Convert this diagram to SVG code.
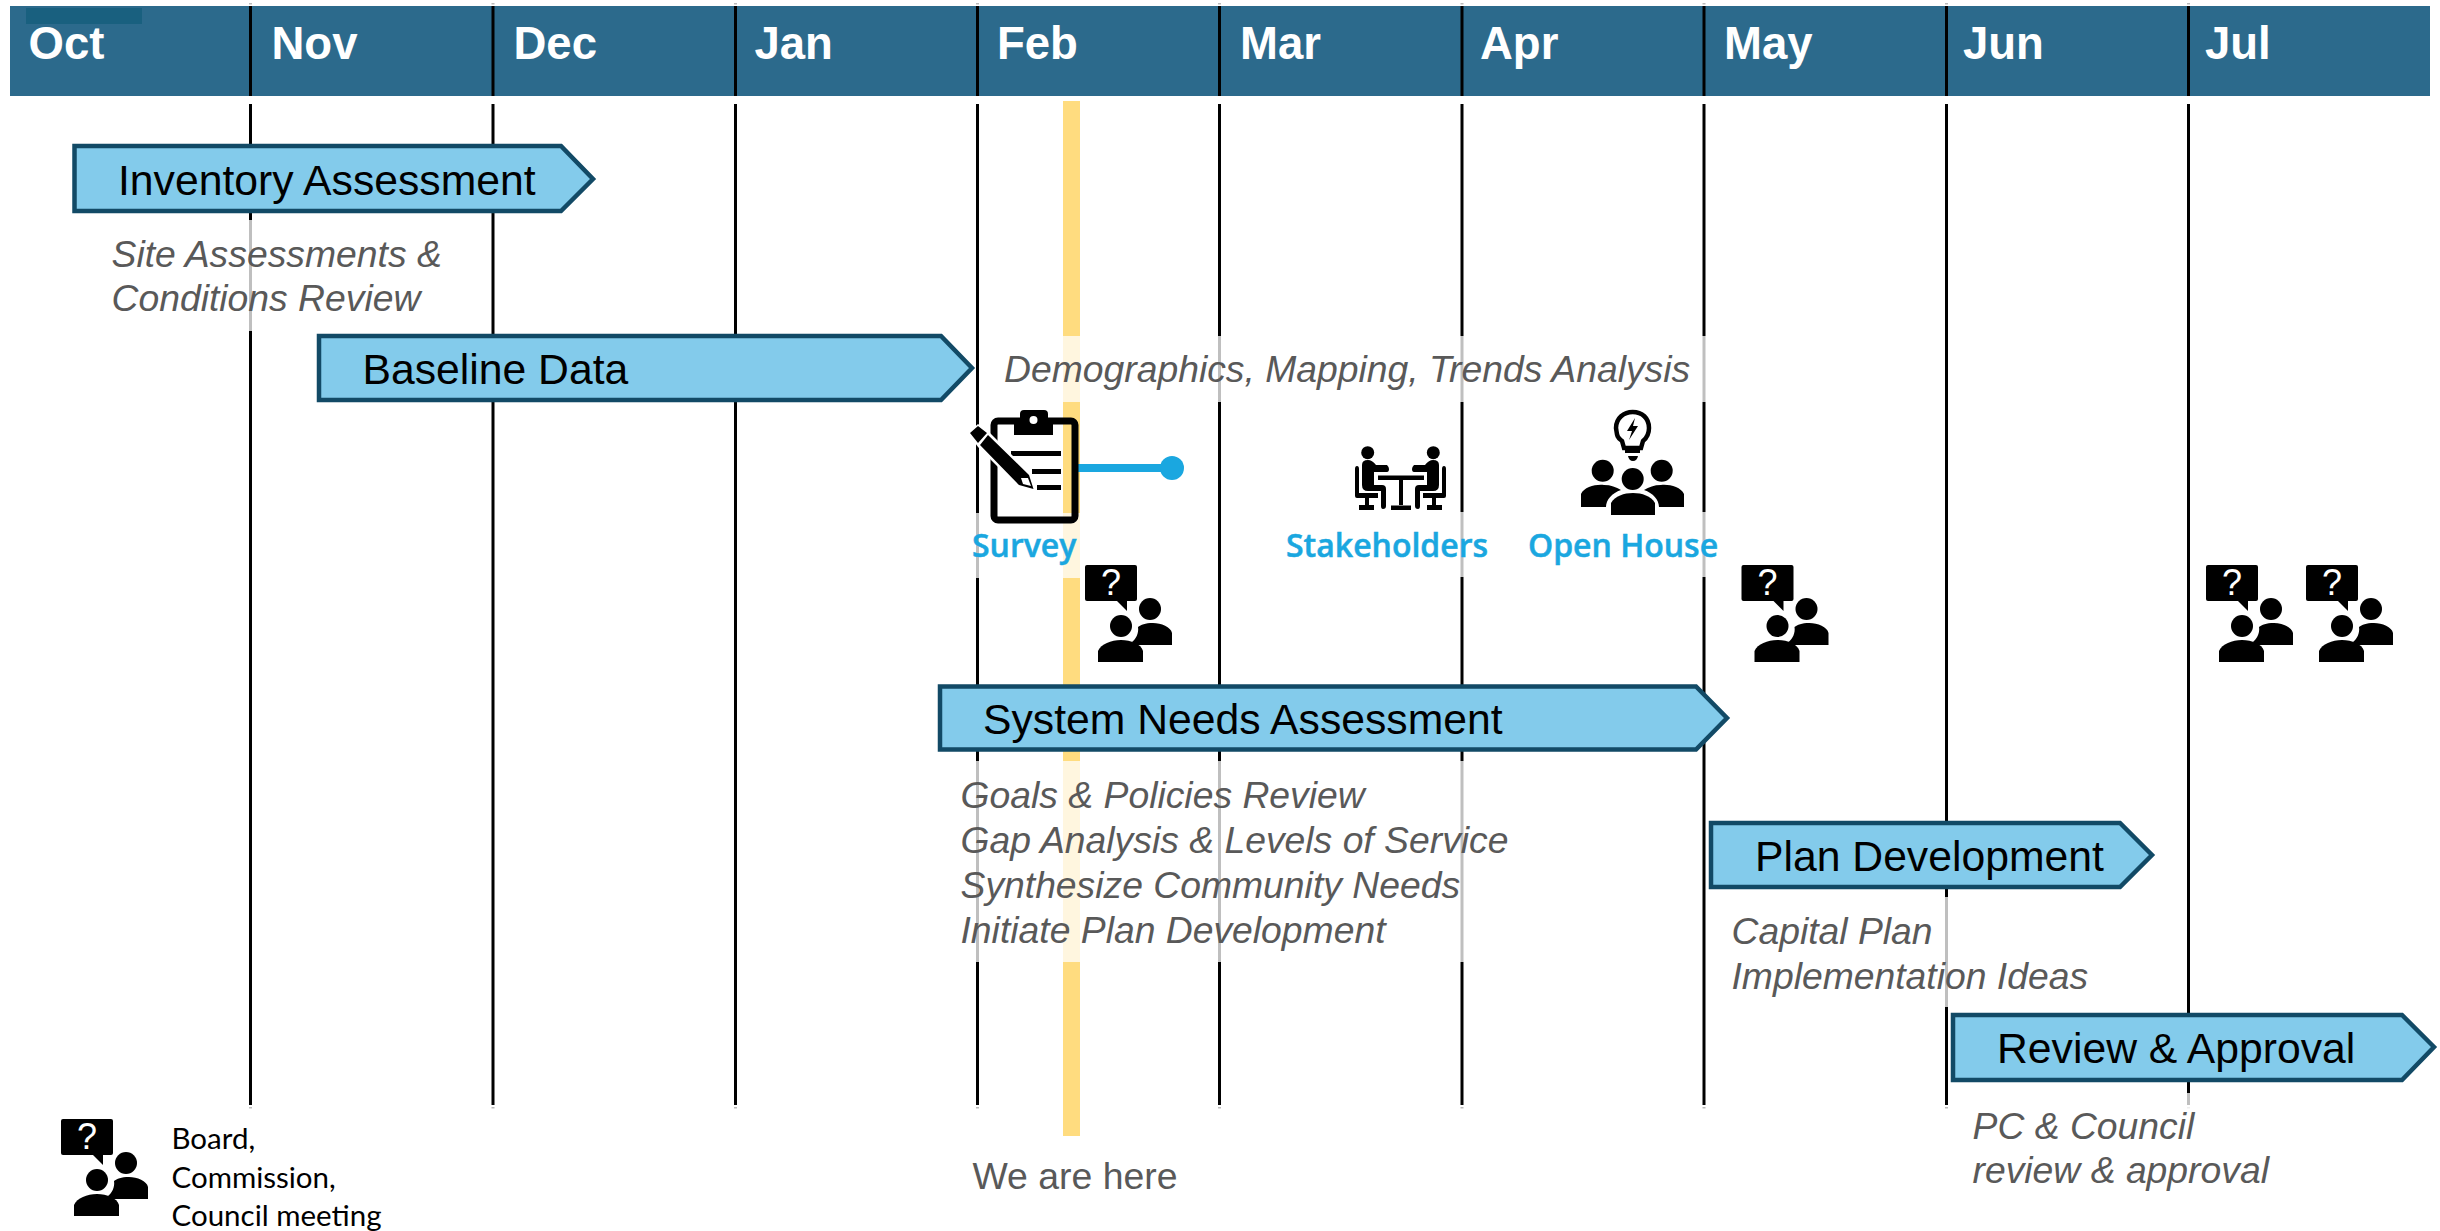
<svg xmlns="http://www.w3.org/2000/svg" width="2440" height="1231" viewBox="0 0 2440 1231">
<style>
text{font-family:"Liberation Sans",Arial,sans-serif}
.grid{stroke:#000;stroke-width:3;fill:none}
.veil{fill:#fff;fill-opacity:.75}
.month{font-weight:700;font-size:45.5px;fill:#fff}
.bar{fill:#83CBEB;stroke:#124A66;stroke-width:4.5}
.barlabel{font-size:42.7px;fill:#000}
.note{font-style:italic;font-size:37.3px;fill:#595959}
.engage{font-family:"Open Sans",sans-serif;font-weight:600;font-size:32px;fill:#1AA7E0;stroke:#1AA7E0;stroke-width:.5}
.legend{font-family:Lato,sans-serif;font-size:29.5px;fill:#000}
.k{fill:#000}
</style>
<defs>
<symbol id="meeting" overflow="visible" viewBox="0 0 90 100" width="90" height="100">
<rect x="0" y="0" width="52" height="36" rx="2" class="k"/>
<path d="M31,35 L42,46 L42,35 Z" class="k"/>
<text x="26" y="30" text-anchor="middle" style="font-family:'Liberation Sans',sans-serif;font-size:36px;font-weight:400;fill:#fff">?</text>
<ellipse cx="65" cy="44" rx="11" ry="11" class="k"/>
<path d="M49,80 L87,80 L87,68 C86,62 76,58 68,58 C60,58 56,60 53,62 C54,68 51,74 47,77 Z" class="k"/>
<circle cx="36" cy="61" r="11" class="k"/>
<path d="M13,97 L58,97 L58,86 C56,79 46,75 36,75 C26,75 16,79 13,86 Z" class="k"/>
</symbol>
</defs>

<g id="header">
<rect x="10" y="6" width="2420" height="90" fill="#2C6A8C"/>
<rect x="26" y="8" width="116" height="16" fill="#19607F"/>
</g>

<g id="grid">
<path class="grid" d="M250.5,6V96M493,6V96M735.5,6V96M977.5,6V96M1219.5,6V96M1462,6V96M1704,6V96M1946.5,6V96M2188.5,6V96"/>
<path class="grid" d="M250.5,104V1105M493,104V1105M735.5,104V1105M977.5,104V1105M1219.5,104V1105M1462,104V1105M1704,104V1105M1946.5,104V1105M2188.5,104V1105"/>
<path d="M250.5,3V4.5M493,3V4.5M735.5,3V4.5M977.5,3V4.5M1219.5,3V4.5M1462,3V4.5M1704,3V4.5M1946.5,3V4.5M2188.5,3V4.5M250.5,1107V1108.5M493,1107V1108.5M735.5,1107V1108.5M977.5,1107V1108.5M1219.5,1107V1108.5M1462,1107V1108.5M1704,1107V1108.5M1946.5,1107V1108.5M2188.5,1107V1108.5" stroke="#bbb" stroke-width="3" fill="none"/>
</g>

<rect id="now-marker" x="1063" y="101" width="17" height="1035" fill="#FFDC7F"/>

<g id="veils">
<rect class="veil" x="105" y="220" width="370" height="111"/>
<rect class="veil" x="985" y="336" width="725" height="66"/>
<rect class="veil" x="965" y="513" width="135" height="65"/>
<rect class="veil" x="1280" y="512" width="440" height="65"/>
<rect class="veil" x="950" y="761" width="570" height="201"/>
<rect class="veil" x="1725" y="897" width="370" height="110"/>
<rect class="veil" x="1965" y="1093" width="330" height="100"/>
</g>

<g id="header-labels">
<text class="month" x="28.5" y="58.5">Oct</text>
<text class="month" x="271.5" y="58.5">Nov</text>
<text class="month" x="513.5" y="58.5">Dec</text>
<text class="month" x="754.5" y="58.5">Jan</text>
<text class="month" x="997" y="58.5">Feb</text>
<text class="month" x="1240" y="58.5">Mar</text>
<text class="month" x="1480" y="58.5">Apr</text>
<text class="month" x="1724" y="58.5">May</text>
<text class="month" x="1963" y="58.5">Jun</text>
<text class="month" x="2205" y="58.5">Jul</text>
</g>

<g id="connectors">
<path d="M1078,468H1172" stroke="#1AA7E0" stroke-width="8" fill="none"/>
<circle cx="1172" cy="468" r="12" fill="#1AA7E0"/>
</g>

<g id="inventory-assessment">
<path class="bar" d="M74.5,146H561L593,179L561,211H74.5Z"/>
<text class="barlabel" x="118" y="195">Inventory Assessment</text>
<text class="note" x="111.5" y="267">Site Assessments &amp;</text>
<text class="note" x="111.5" y="311">Conditions Review</text>
</g>

<g id="baseline-data">
<path class="bar" d="M319,336H941L972,368L941,400H319Z"/>
<text class="barlabel" x="362.5" y="383.5">Baseline Data</text>
<text class="note" x="1004" y="382">Demographics, Mapping, Trends Analysis</text>
</g>

<g id="survey">
<g fill="none" stroke="#000">
<rect x="994" y="421" width="81" height="99" rx="4" stroke-width="7"/>
</g>
<path class="k" d="M1014,418H1020V414Q1020,410 1024,410H1044Q1048,410 1048,414V418H1053V435H1014Z"/>
<circle cx="1033.5" cy="420" r="4" fill="#fff"/>
<path class="k" d="M1011,451H1061V456H1011ZM1032,469H1061V474H1032ZM1037,485H1061V490H1037Z"/>
<path d="M968,433L978,424L990,433L1032,475L1036,493L1018,487L978,447Z" fill="#fff"/>
<path class="k" d="M970,433L978,426L987,433L978,443ZM988,435L1029,475L1033.5,489L1019,485L980,445Z"/>
<path d="M1021,478L1028,478L1031,486L1023,484Z" fill="#fff"/>
<text class="engage" x="972" y="557">Survey</text>
</g>

<g id="stakeholders">
<circle cx="1367.7" cy="452.7" r="6.5" class="k"/><circle cx="1433.3" cy="452.7" r="6.5" class="k"/>
<path class="k" d="M1378,475.5H1424V480H1378ZM1399,480H1403V505H1399ZM1391,505.5H1411V510H1391Z"/>
<g class="k">
<path d="M1355,469Q1355,466 1357,466Q1359,466 1359,469V493H1378V498H1369V505H1374V510H1359V505H1365V498H1357Q1355,498 1355,496Z"/>
<path d="M1362,465Q1362,460 1368,460Q1372,460 1376,465L1387,465Q1389,467 1389,469Q1389,472 1387,472H1374V485H1382Q1386,485 1386,489V506Q1386,509 1383,509Q1381,509 1381,506V491H1368Q1362,491 1362,485Z"/>
</g>
<g class="k" transform="translate(2801,0) scale(-1,1)">
<path d="M1355,469Q1355,466 1357,466Q1359,466 1359,469V493H1378V498H1369V505H1374V510H1359V505H1365V498H1357Q1355,498 1355,496Z"/>
<path d="M1362,465Q1362,460 1368,460Q1372,460 1376,465L1387,465Q1389,467 1389,469Q1389,472 1387,472H1374V485H1382Q1386,485 1386,489V506Q1386,509 1383,509Q1381,509 1381,506V491H1368Q1362,491 1362,485Z"/>
</g>
<text class="engage" x="1286" y="557">Stakeholders</text>
</g>

<g id="open-house">
<path d="M1624,448L1622,441C1616,437 1617,433 1616,428C1616,418 1624,412 1632.7,412C1642,412 1649,418 1649,428C1649,433 1648,437 1643,441L1641,448Z" fill="none" stroke="#000" stroke-width="4.5"/>
<path class="k" d="M1635,418L1627,431H1632L1629,440L1638,426H1633Z"/>
<path class="k" d="M1625,450H1640V453H1625ZM1628,456H1638Q1637,461 1633,461Q1629,461 1628,456Z"/>
<circle cx="1602.7" cy="470.7" r="11" class="k"/><circle cx="1661.7" cy="470.7" r="11" class="k"/>
<path class="k" d="M1581,507V494C1584,487 1596,484 1604,485C1611,485 1616,487 1621,490C1612,493 1606,500 1606,507ZM1684,507V494C1681,487 1669,484 1661,485C1654,485 1649,487 1644,490C1653,493 1659,500 1659,507Z"/>
<circle cx="1632.7" cy="479" r="11" class="k"/>
<path class="k" d="M1611,515V503C1615,496 1624,493 1633,493C1642,493 1651,496 1655,503V515Z"/>
<text class="engage" x="1528" y="557">Open House</text>
</g>

<g id="meeting-feb"><use href="#meeting" x="1085" y="565" width="90" height="100"/></g>
<g id="meeting-may"><use href="#meeting" x="1741.5" y="565" width="90" height="100"/></g>
<g id="meeting-jul-1"><use href="#meeting" x="2206" y="565" width="90" height="100"/></g>
<g id="meeting-jul-2"><use href="#meeting" x="2306" y="565" width="90" height="100"/></g>

<g id="system-needs-assessment">
<path class="bar" d="M940,686.5H1696L1727,718L1696,749.5H940Z"/>
<text class="barlabel" x="983" y="734">System Needs Assessment</text>
<text class="note" x="960.5" y="807.5">Goals &amp; Policies Review</text>
<text class="note" x="960.5" y="852.5">Gap Analysis &amp; Levels of Service</text>
<text class="note" x="960.5" y="897.5">Synthesize Community Needs</text>
<text class="note" x="960.5" y="942.5">Initiate Plan Development</text>
</g>

<g id="plan-development">
<path class="bar" d="M1711,823H2120L2152,855L2120,887H1711Z"/>
<text class="barlabel" x="1755" y="870.5">Plan Development</text>
<text class="note" x="1731.5" y="944">Capital Plan</text>
<text class="note" x="1731.5" y="988.5">Implementation Ideas</text>
</g>

<g id="review-approval">
<path class="bar" d="M1953,1015H2402L2434,1047L2402,1080H1953Z"/>
<text class="barlabel" x="1997" y="1063">Review &amp; Approval</text>
<text class="note" x="1972.5" y="1139">PC &amp; Council</text>
<text class="note" x="1972.5" y="1183">review &amp; approval</text>
</g>

<g id="we-are-here">
<text x="972.5" y="1189" font-size="37.4" fill="#595959">We are here</text>
</g>

<g id="legend">
<use href="#meeting" x="61" y="1119" width="90" height="100"/>
<text class="legend" x="171.5" y="1149">Board,</text>
<text class="legend" x="171.5" y="1188">Commission,</text>
<text class="legend" x="171.5" y="1226">Council meeting</text>
</g>
</svg>
